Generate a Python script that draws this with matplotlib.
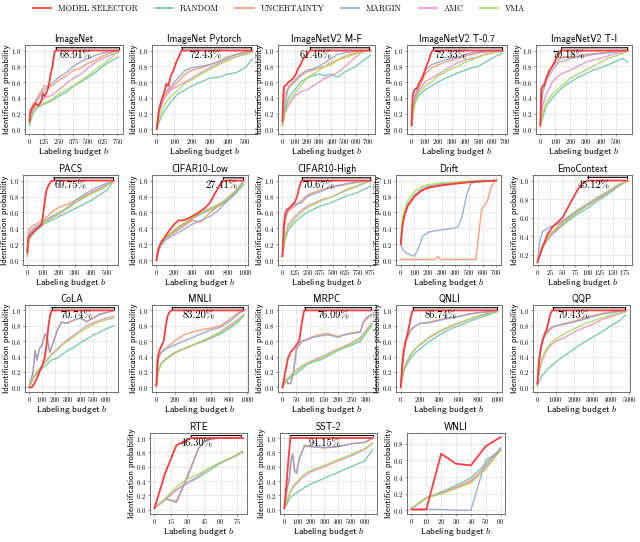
import numpy as np
import matplotlib
matplotlib.use('Agg')
import matplotlib.pyplot as plt
from matplotlib.lines import Line2D

plt.rcParams['mathtext.fontset'] = 'cm'
plt.rcParams['axes.formatter.use_mathtext'] = True

# ---- data (labeling budget -> identification probability)
imagenet = dict(
    title='ImageNet', ticks=(0, 750, 125), pct='68.91%', span=(225, 760), pct_x=395,
    sel_x=[0, 10, 30, 50, 75, 100, 115, 130, 150, 165, 180, 195, 210, 220, 760],
    sel=[0.1, 0.25, 0.28, 0.33, 0.3, 0.35, 0.45, 0.42, 0.48, 0.55, 0.7, 0.78, 0.95, 1.0, 1.0],
    x=[0, 25, 60, 125, 190, 250, 315, 375, 440, 500, 565, 625, 690, 740, 760],
    random=[0.05, 0.18, 0.27, 0.32, 0.36, 0.42, 0.47, 0.55, 0.6, 0.66, 0.72, 0.8, 0.86, 0.9, 0.92],
    uncertainty=[0.12, 0.3, 0.38, 0.55, 0.55, 0.62, 0.68, 0.75, 0.78, 0.84, 0.88, 0.93, 0.97, 0.99, 1.0],
    margin=[0.15, 0.25, 0.35, 0.5, 0.58, 0.66, 0.72, 0.8, 0.86, 0.9, 0.94, 0.97, 0.98, 1.0, 1.0],
    amc=[0.1, 0.22, 0.3, 0.4, 0.43, 0.5, 0.58, 0.65, 0.7, 0.78, 0.85, 0.9, 0.94, 0.97, 0.98],
    vma=[0.08, 0.2, 0.28, 0.33, 0.38, 0.45, 0.5, 0.55, 0.62, 0.68, 0.76, 0.82, 0.9, 0.97, 0.98])

imagenet_pt = dict(
    title='ImageNet Pytorch', ticks=(0, 500, 100), pct='72.43%', span=(140, 535), pct_x=275,
    sel_x=[0, 10, 25, 40, 55, 65, 80, 95, 110, 125, 140, 540],
    sel=[0.0, 0.2, 0.35, 0.45, 0.58, 0.55, 0.68, 0.75, 0.85, 0.92, 1.0, 1.0],
    x=[0, 15, 40, 80, 120, 160, 200, 250, 300, 350, 400, 450, 500, 540],
    random=[0, 0.1, 0.22, 0.35, 0.45, 0.5, 0.55, 0.6, 0.65, 0.66, 0.7, 0.72, 0.78, 0.89],
    uncertainty=[0, 0.3, 0.42, 0.52, 0.6, 0.7, 0.75, 0.78, 0.82, 0.86, 0.92, 0.95, 0.98, 1.0],
    margin=[0, 0.3, 0.45, 0.55, 0.65, 0.75, 0.78, 0.8, 0.82, 0.86, 0.9, 0.95, 0.98, 1.0],
    amc=[0, 0.25, 0.38, 0.5, 0.55, 0.6, 0.65, 0.72, 0.78, 0.84, 0.88, 0.92, 0.96, 0.98],
    vma=[0, 0.15, 0.3, 0.42, 0.5, 0.58, 0.63, 0.7, 0.76, 0.82, 0.87, 0.92, 0.95, 0.98])

imagenetv2_mf = dict(
    title='ImageNetV2 M-F', ticks=(0, 700, 100), pct='61.46%', span=(225, 710), pct_x=273,
    sel_x=[0, 8, 15, 30, 50, 70, 90, 110, 130, 150, 170, 190, 210, 225, 720],
    sel=[0.1, 0.45, 0.55, 0.56, 0.6, 0.62, 0.65, 0.7, 0.78, 0.82, 0.9, 0.92, 0.97, 1.0, 1.0],
    x=[0, 20, 50, 100, 150, 200, 250, 300, 350, 400, 450, 500, 550, 600, 650, 720],
    random=[0.05, 0.25, 0.4, 0.5, 0.6, 0.65, 0.68, 0.7, 0.68, 0.7, 0.66, 0.72, 0.76, 0.8, 0.86, 0.94],
    uncertainty=[0.05, 0.45, 0.52, 0.6, 0.68, 0.73, 0.75, 0.78, 0.8, 0.85, 0.88, 0.92, 0.95, 0.97, 0.99, 1.0],
    margin=[0.1, 0.3, 0.55, 0.62, 0.7, 0.75, 0.77, 0.8, 0.85, 0.9, 0.95, 0.97, 0.98, 0.99, 1.0, 1.0],
    amc=[0.05, 0.2, 0.3, 0.42, 0.48, 0.5, 0.55, 0.6, 0.65, 0.68, 0.72, 0.78, 0.85, 0.92, 0.98, 1.0],
    vma=[0.05, 0.2, 0.35, 0.45, 0.55, 0.65, 0.7, 0.75, 0.8, 0.82, 0.88, 0.9, 0.93, 0.96, 0.98, 1.0])

imagenetv2_t07 = dict(
    title='ImageNetV2 T-0.7', ticks=(0, 700, 100), pct='72.33%', span=(160, 675), pct_x=295,
    sel_x=[0, 8, 20, 40, 60, 80, 95, 110, 130, 145, 160, 680],
    sel=[0.05, 0.42, 0.5, 0.52, 0.6, 0.65, 0.72, 0.8, 0.88, 0.97, 1.0, 1.0],
    x=[0, 20, 50, 100, 150, 200, 250, 300, 350, 400, 450, 500, 550, 600, 680],
    random=[0.05, 0.3, 0.42, 0.5, 0.55, 0.6, 0.65, 0.68, 0.72, 0.75, 0.78, 0.8, 0.85, 0.9, 0.97],
    uncertainty=[0.05, 0.38, 0.5, 0.7, 0.78, 0.82, 0.85, 0.88, 0.9, 0.93, 0.95, 0.97, 0.98, 0.99, 1.0],
    margin=[0.1, 0.4, 0.55, 0.75, 0.82, 0.85, 0.88, 0.9, 0.92, 0.95, 0.97, 0.98, 0.99, 1.0, 1.0],
    amc=[0.05, 0.35, 0.48, 0.6, 0.65, 0.7, 0.75, 0.8, 0.85, 0.88, 0.9, 0.92, 0.95, 0.97, 0.99],
    vma=[0.05, 0.3, 0.45, 0.55, 0.6, 0.68, 0.72, 0.77, 0.8, 0.85, 0.88, 0.92, 0.95, 0.97, 1.0])

imagenetv2_ti = dict(
    title='ImageNetV2 T-I', ticks=(0, 500, 100), pct='70.18%', span=(140, 575), pct_x=190,
    sel_x=[0, 5, 15, 25, 40, 60, 80, 100, 120, 140, 580],
    sel=[0.05, 0.5, 0.55, 0.55, 0.65, 0.75, 0.8, 0.88, 0.95, 1.0, 1.0],
    x=[0, 15, 40, 80, 120, 160, 200, 250, 300, 350, 400, 450, 500, 550, 580],
    random=[0.05, 0.15, 0.3, 0.4, 0.48, 0.55, 0.6, 0.66, 0.7, 0.75, 0.78, 0.82, 0.86, 0.9, 0.85],
    uncertainty=[0.05, 0.55, 0.65, 0.8, 0.88, 0.92, 0.92, 0.93, 0.95, 0.96, 0.97, 0.98, 0.99, 1.0, 1.0],
    margin=[0.1, 0.45, 0.62, 0.75, 0.85, 0.87, 0.9, 0.92, 0.93, 0.95, 0.96, 0.97, 0.98, 1.0, 1.0],
    amc=[0.05, 0.3, 0.45, 0.6, 0.68, 0.72, 0.75, 0.8, 0.85, 0.88, 0.9, 0.93, 0.96, 0.98, 0.99],
    vma=[0.05, 0.2, 0.35, 0.45, 0.52, 0.58, 0.65, 0.7, 0.75, 0.8, 0.85, 0.9, 0.93, 0.97, 0.99])

pacs = dict(
    title='PACS', ticks=(0, 500, 100), pct='69.75%', span=(165, 535), pct_x=271,
    sel_x=[0, 5, 25, 50, 75, 90, 100, 110, 120, 135, 150, 160, 540],
    sel=[0.1, 0.28, 0.33, 0.38, 0.42, 0.45, 0.6, 0.75, 0.88, 0.95, 0.99, 1.0, 1.0],
    x=[0, 10, 25, 50, 75, 100, 150, 200, 250, 300, 350, 400, 450, 500, 540],
    random=[0.05, 0.25, 0.3, 0.36, 0.4, 0.45, 0.5, 0.55, 0.6, 0.65, 0.7, 0.75, 0.82, 0.88, 1.0],
    uncertainty=[0.1, 0.38, 0.42, 0.45, 0.48, 0.5, 0.6, 0.67, 0.7, 0.75, 0.8, 0.85, 0.9, 0.95, 1.0],
    margin=[0.1, 0.32, 0.37, 0.42, 0.45, 0.48, 0.55, 0.6, 0.66, 0.75, 0.82, 0.88, 0.93, 0.97, 1.0],
    amc=[0.05, 0.28, 0.34, 0.4, 0.43, 0.47, 0.53, 0.58, 0.65, 0.72, 0.78, 0.85, 0.9, 0.95, 1.0],
    vma=[0.05, 0.26, 0.32, 0.38, 0.42, 0.47, 0.53, 0.6, 0.65, 0.72, 0.78, 0.83, 0.88, 0.94, 1.0])

cifar_low = dict(
    title='CIFAR10-Low', ticks=(0, 1000, 200), pct='27.41%', span=(750, 975), pct_x=730,
    sel_x=[0, 25, 50, 100, 150, 200, 250, 300, 350, 400, 450, 500, 550, 600, 650, 700, 750, 980],
    sel=[0.0, 0.15, 0.22, 0.3, 0.38, 0.45, 0.5, 0.5, 0.52, 0.55, 0.58, 0.62, 0.66, 0.72, 0.82, 0.92, 1.0, 1.0],
    x=[0, 25, 50, 100, 200, 300, 400, 500, 600, 700, 800, 900, 980],
    random=[0, 0.13, 0.19, 0.27, 0.36, 0.44, 0.52, 0.58, 0.63, 0.68, 0.75, 0.85, 0.95],
    uncertainty=[0, 0.15, 0.2, 0.28, 0.35, 0.42, 0.5, 0.48, 0.6, 0.68, 0.78, 0.88, 1.0],
    margin=[0, 0.12, 0.18, 0.25, 0.32, 0.38, 0.45, 0.5, 0.55, 0.63, 0.75, 0.85, 1.0],
    amc=[0, 0.14, 0.2, 0.28, 0.38, 0.45, 0.52, 0.6, 0.65, 0.7, 0.78, 0.88, 1.0],
    vma=[0, 0.14, 0.2, 0.28, 0.38, 0.46, 0.53, 0.6, 0.64, 0.7, 0.77, 0.88, 0.98])

cifar_high = dict(
    title='CIFAR10-High', ticks=(0, 875, 125), pct='70.67%', span=(195, 870), pct_x=357,
    sel_x=[0, 15, 30, 50, 75, 100, 125, 150, 170, 190, 880],
    sel=[0.05, 0.45, 0.6, 0.64, 0.66, 0.7, 0.73, 0.82, 0.92, 1.0, 1.0],
    x=[0, 25, 60, 125, 190, 250, 375, 500, 625, 750, 880],
    random=[0.05, 0.25, 0.38, 0.48, 0.55, 0.6, 0.68, 0.73, 0.8, 0.85, 0.93],
    uncertainty=[0.05, 0.5, 0.62, 0.68, 0.75, 0.82, 0.88, 0.92, 0.95, 0.98, 1.0],
    margin=[0.05, 0.5, 0.65, 0.7, 0.72, 0.8, 0.86, 0.92, 0.96, 0.98, 1.0],
    amc=[0.05, 0.3, 0.45, 0.55, 0.63, 0.68, 0.75, 0.8, 0.87, 0.93, 1.0],
    vma=[0.05, 0.28, 0.42, 0.52, 0.6, 0.66, 0.74, 0.8, 0.88, 0.94, 1.0])

drift = dict(
    title='Drift', ticks=(0, 700, 100), pct=None,
    x=[0, 10, 25, 50, 100, 150, 200, 300, 400, 500, 600, 700],
    sel=[0.2, 0.4, 0.55, 0.68, 0.8, 0.87, 0.91, 0.94, 0.96, 0.98, 0.99, 1.0],
    random=[0.2, 0.45, 0.58, 0.7, 0.82, 0.89, 0.93, 0.96, 0.97, 0.99, 1.0, 1.0],
    amc=[0.2, 0.42, 0.56, 0.68, 0.8, 0.88, 0.92, 0.95, 0.97, 0.98, 0.99, 1.0],
    vma=[0.2, 0.5, 0.62, 0.74, 0.86, 0.92, 0.95, 0.97, 0.98, 0.99, 1.0, 1.0],
    margin_x=[0, 20, 50, 100, 130, 160, 200, 250, 300, 380, 420, 450, 480, 510, 550, 700],
    margin=[0.2, 0.12, 0.08, 0.05, 0.15, 0.3, 0.35, 0.37, 0.38, 0.4, 0.42, 0.55, 0.8, 0.95, 1.0, 1.0],
    uncertainty_x=[0, 250, 270, 290, 550, 570, 590, 600, 630, 660, 690, 700],
    uncertainty=[0.01, 0.01, 0.05, 0.01, 0.01, 0.3, 0.6, 0.66, 0.72, 0.9, 1.0, 1.0])

emocontext = dict(
    title='EmoContext', ticks=(0, 175, 25), pct='45.12%', span=(100, 178), pct_x=113,
    sel_x=[0, 10, 20, 30, 40, 50, 60, 70, 80, 90, 100, 180],
    sel=[0.12, 0.28, 0.42, 0.5, 0.55, 0.6, 0.7, 0.8, 0.9, 0.97, 1.0, 1.0],
    x=[0, 5, 10, 25, 40, 60, 80, 100, 120, 140, 160, 180],
    random=[0.12, 0.2, 0.28, 0.4, 0.47, 0.56, 0.64, 0.7, 0.78, 0.85, 0.93, 1.0],
    uncertainty=[0.13, 0.22, 0.3, 0.42, 0.5, 0.6, 0.68, 0.74, 0.8, 0.87, 0.94, 1.0],
    margin=[0.15, 0.35, 0.45, 0.5, 0.53, 0.6, 0.68, 0.75, 0.82, 0.88, 0.95, 1.0],
    amc=[0.13, 0.2, 0.28, 0.4, 0.48, 0.57, 0.66, 0.73, 0.8, 0.87, 0.94, 1.0],
    vma=[0.14, 0.22, 0.3, 0.42, 0.5, 0.58, 0.67, 0.74, 0.81, 0.88, 0.95, 1.0])

cola = dict(
    title='CoLA', ticks=(0, 600, 100), pct='70.74%', span=(175, 660), pct_x=370,
    sel_x=[0, 20, 40, 60, 80, 100, 120, 135, 150, 165, 175, 660],
    sel=[0.0, 0.0, 0.05, 0.12, 0.2, 0.28, 0.38, 0.55, 0.8, 0.95, 1.0, 1.0],
    x=[0, 30, 45, 60, 80, 100, 125, 140, 160, 180, 220, 250, 300, 350, 400, 450, 500, 550, 600, 660],
    random=[0, 0.12, 0.15, 0.18, 0.22, 0.25, 0.28, 0.3, 0.33, 0.36, 0.38, 0.42, 0.48, 0.52, 0.58, 0.63, 0.68, 0.72, 0.76, 0.8],
    uncertainty=[0.0, 0.2, 0.47, 0.36, 0.5, 0.55, 0.69, 0.66, 0.46, 0.55, 0.74, 0.84, 0.84, 0.87, 0.9, 0.86, 0.9, 0.95, 0.97, 1.0],
    margin=[0.0, 0.2, 0.48, 0.35, 0.5, 0.55, 0.7, 0.65, 0.45, 0.55, 0.75, 0.85, 0.83, 0.88, 0.9, 0.85, 0.9, 0.95, 0.97, 1.0],
    amc=[0, 0.12, 0.16, 0.2, 0.24, 0.28, 0.33, 0.36, 0.4, 0.44, 0.5, 0.55, 0.62, 0.68, 0.74, 0.8, 0.84, 0.87, 0.9, 0.92],
    vma=[0, 0.12, 0.16, 0.2, 0.24, 0.28, 0.32, 0.35, 0.39, 0.43, 0.49, 0.54, 0.6, 0.66, 0.72, 0.77, 0.82, 0.85, 0.88, 0.9])

mnli = dict(
    title='MNLI', ticks=(0, 1000, 200), pct='83.20%', span=(170, 955), pct_x=470,
    sel_x=[0, 10, 20, 40, 60, 80, 95, 110, 125, 140, 165, 960],
    sel=[0.02, 0.3, 0.42, 0.5, 0.55, 0.6, 0.72, 0.85, 0.93, 0.97, 1.0, 1.0],
    x=[0, 20, 50, 100, 200, 300, 400, 500, 600, 700, 800, 900, 960],
    random=[0.02, 0.2, 0.3, 0.37, 0.45, 0.5, 0.55, 0.59, 0.64, 0.69, 0.76, 0.85, 0.93],
    uncertainty=[0.02, 0.4, 0.45, 0.5, 0.6, 0.68, 0.72, 0.75, 0.77, 0.8, 0.88, 0.97, 1.0],
    margin=[0.02, 0.35, 0.45, 0.5, 0.55, 0.6, 0.65, 0.7, 0.75, 0.78, 0.85, 0.95, 1.0],
    amc=[0.02, 0.2, 0.3, 0.36, 0.45, 0.5, 0.55, 0.6, 0.65, 0.72, 0.8, 0.88, 0.95],
    vma=[0.02, 0.2, 0.3, 0.36, 0.44, 0.5, 0.55, 0.6, 0.66, 0.71, 0.78, 0.87, 0.94])

mrpc = dict(
    title='MRPC', ticks=(0, 300, 50), pct='76.09%', span=(80, 318), pct_x=182,
    sel_x=[0, 10, 20, 30, 40, 50, 60, 70, 78, 320],
    sel=[0.0, 0.2, 0.38, 0.46, 0.5, 0.55, 0.6, 0.85, 1.0, 1.0],
    x=[0, 10, 20, 30, 40, 50, 70, 90, 110, 140, 160, 180, 200, 220, 250, 280, 290, 300, 320],
    random=[0, 0.06, 0.1, 0.13, 0.16, 0.18, 0.24, 0.3, 0.33, 0.36, 0.4, 0.44, 0.48, 0.51, 0.55, 0.6, 0.65, 0.7, 0.8],
    uncertainty=[0.0, 0.1, 0.05, 0.06, 0.22, 0.5, 0.6, 0.63, 0.66, 0.69, 0.7, 0.68, 0.66, 0.68, 0.71, 0.72, 0.84, 0.88, 0.94],
    margin=[0.0, 0.1, 0.05, 0.05, 0.2, 0.5, 0.6, 0.62, 0.65, 0.67, 0.68, 0.67, 0.65, 0.68, 0.7, 0.72, 0.85, 0.9, 0.95],
    amc=[0, 0.08, 0.12, 0.16, 0.2, 0.22, 0.28, 0.32, 0.35, 0.4, 0.43, 0.47, 0.5, 0.53, 0.58, 0.65, 0.7, 0.74, 0.84],
    vma=[0, 0.08, 0.12, 0.15, 0.19, 0.21, 0.27, 0.31, 0.34, 0.38, 0.42, 0.45, 0.49, 0.52, 0.57, 0.63, 0.68, 0.72, 0.82])

qnli = dict(
    title='QNLI', ticks=(0, 1000, 200), pct='86.74%', span=(125, 995), pct_x=410,
    sel_x=[0, 15, 30, 50, 70, 90, 110, 125, 1000],
    sel=[0.0, 0.3, 0.48, 0.6, 0.7, 0.82, 0.95, 1.0, 1.0],
    x=[0, 25, 50, 100, 150, 200, 300, 400, 500, 600, 700, 800, 900, 1000],
    random=[0.02, 0.18, 0.27, 0.38, 0.45, 0.5, 0.6, 0.68, 0.75, 0.8, 0.85, 0.9, 0.94, 0.98],
    uncertainty=[0.02, 0.38, 0.58, 0.73, 0.8, 0.83, 0.85, 0.88, 0.9, 0.92, 0.95, 0.97, 0.98, 1.0],
    margin=[0.02, 0.4, 0.6, 0.75, 0.8, 0.83, 0.84, 0.87, 0.9, 0.92, 0.95, 0.97, 0.98, 1.0],
    amc=[0.02, 0.2, 0.3, 0.42, 0.5, 0.55, 0.65, 0.72, 0.78, 0.83, 0.88, 0.92, 0.96, 1.0],
    vma=[0.02, 0.2, 0.3, 0.43, 0.5, 0.56, 0.66, 0.73, 0.79, 0.84, 0.88, 0.93, 0.96, 1.0])

qqp = dict(
    title='QQP', ticks=(0, 5000, 1000), pct='79.43%', span=(850, 4780), pct_x=1960,
    sel_x=[0, 100, 200, 300, 400, 500, 600, 700, 800, 4800],
    sel=[0.05, 0.35, 0.52, 0.62, 0.7, 0.75, 0.85, 0.95, 1.0, 1.0],
    x=[0, 100, 250, 500, 750, 1000, 1500, 2000, 2500, 3000, 3500, 4000, 4500, 4800],
    random=[0.02, 0.08, 0.15, 0.22, 0.28, 0.33, 0.42, 0.5, 0.58, 0.65, 0.72, 0.8, 0.87, 0.94],
    uncertainty=[0.05, 0.4, 0.6, 0.7, 0.76, 0.8, 0.83, 0.86, 0.9, 0.93, 0.96, 0.98, 0.99, 1.0],
    margin=[0.05, 0.4, 0.62, 0.72, 0.78, 0.8, 0.82, 0.85, 0.88, 0.92, 0.95, 0.97, 0.99, 1.0],
    amc=[0.03, 0.2, 0.35, 0.48, 0.55, 0.6, 0.65, 0.72, 0.77, 0.82, 0.88, 0.92, 0.96, 0.98],
    vma=[0.03, 0.22, 0.38, 0.5, 0.58, 0.63, 0.7, 0.76, 0.82, 0.86, 0.9, 0.94, 0.97, 0.99])

rte = dict(
    title='RTE', ticks=(0, 75, 15), pct='46.30%', span=(33, 79), pct_x=39,
    sel_x=[0, 10, 20, 27, 33, 80],
    sel=[0.02, 0.52, 0.9, 0.95, 1.0, 1.0],
    x=[0, 10, 20, 30, 40, 45, 50, 60, 70, 80],
    random=[0.02, 0.14, 0.28, 0.37, 0.45, 0.5, 0.55, 0.65, 0.72, 0.8],
    uncertainty=[0.02, 0.15, 0.12, 0.48, 0.86, 0.95, 0.98, 1.0, 1.0, 1.0],
    margin=[0.02, 0.15, 0.1, 0.45, 0.85, 0.95, 0.98, 1.0, 1.0, 1.0],
    amc=[0.02, 0.15, 0.28, 0.38, 0.47, 0.53, 0.58, 0.66, 0.72, 0.81],
    vma=[0.02, 0.16, 0.32, 0.43, 0.5, 0.54, 0.58, 0.66, 0.73, 0.82])

sst2 = dict(
    title='SST-2', ticks=(0, 600, 100), pct='94.15%', span=(45, 660), pct_x=305,
    sel_x=[0, 15, 30, 45, 660],
    sel=[0.02, 0.35, 0.7, 1.0, 1.0],
    x=[0, 20, 35, 50, 62, 75, 90, 110, 130, 150, 200, 300, 400, 500, 600, 660],
    random=[0.02, 0.08, 0.14, 0.18, 0.2, 0.22, 0.23, 0.26, 0.28, 0.31, 0.36, 0.44, 0.52, 0.6, 0.68, 0.84],
    uncertainty=[0.02, 0.3, 0.42, 0.68, 0.76, 0.56, 0.52, 0.7, 0.8, 0.88, 0.88, 0.86, 0.88, 0.92, 0.94, 0.99],
    margin=[0.02, 0.3, 0.4, 0.7, 0.78, 0.55, 0.5, 0.7, 0.8, 0.9, 0.88, 0.87, 0.88, 0.92, 0.94, 1.0],
    amc=[0.02, 0.12, 0.2, 0.27, 0.3, 0.33, 0.36, 0.4, 0.44, 0.47, 0.53, 0.6, 0.68, 0.75, 0.84, 0.92],
    vma=[0.02, 0.13, 0.21, 0.28, 0.32, 0.35, 0.38, 0.42, 0.46, 0.5, 0.55, 0.62, 0.7, 0.77, 0.85, 0.93])

wnli = dict(
    title='WNLI', ticks=(0, 60, 10), pct=None,
    x=[0, 10, 20, 30, 40, 50, 60],
    sel=[0.01, 0.01, 0.68, 0.56, 0.54, 0.77, 0.88],
    random=[0.02, 0.15, 0.22, 0.3, 0.39, 0.56, 0.75],
    uncertainty=[0.02, 0.15, 0.2, 0.27, 0.34, 0.5, 0.73],
    margin=[0.01, 0.01, 0.01, 0.0, 0.0, 0.6, 0.72],
    amc=[0.02, 0.15, 0.21, 0.28, 0.36, 0.53, 0.74],
    vma=[0.02, 0.15, 0.2, 0.26, 0.33, 0.5, 0.72])

methods = ['random', 'uncertainty', 'margin', 'amc', 'vma']
legend_labels = ['MODEL SELECTOR', 'RANDOM', 'UNCERTAINTY', 'MARGIN', 'AMC', 'VMA']

# ---- style / layout
sel_color = '#ff3c3c'
colors = {'random': '#66c2a5', 'uncertainty': '#fc8d62', 'margin': '#8da0cb',
          'amc': '#e78ac3', 'vma': '#a6d854'}

# axes boxes in pixels: (left, top, right, bottom)
panels = [
    (imagenet, (25, 45, 123, 134)), (imagenet_pt, (152, 45, 257, 134)),
    (imagenetv2_mf, (278, 45, 375, 134)), (imagenetv2_t07, (407, 45, 507, 134)),
    (imagenetv2_ti, (536, 45, 632, 134)),
    (pacs, (23, 175, 118, 265)), (cifar_low, (152, 175, 248, 265)),
    (cifar_high, (278, 175, 375, 265)), (drift, (396, 175, 501, 265)),
    (emocontext, (533, 175, 632, 265)),
    (cola, (25, 305, 118, 392)), (mnli, (152, 305, 248, 392)),
    (mrpc, (278, 305, 376, 392)), (qnli, (396, 305, 502, 392)),
    (qqp, (533, 305, 630, 392)),
    (rte, (150, 433, 247, 514)), (sst2, (280, 433, 377, 514)),
    (wnli, (407, 433, 505, 514)),
]

W, H = 640, 542
fig = plt.figure(figsize=(W / 100, H / 100), dpi=100)

for d, (l, t, r, b) in panels:
    ax = fig.add_axes([l / W, 1 - b / H, (r - l) / W, (b - t) / H])
    for m in methods:
        xs = d.get(m + '_x', d['x'])
        ax.plot(xs, d[m], color=colors[m], lw=1.0, alpha=0.85)
    ax.plot(d.get('sel_x', d['x']), d['sel'], color=sel_color, lw=1.3)

    t0, t1, ts = d['ticks']
    ax.set_xticks(np.arange(t0, t1 + 1, ts))
    if d is emocontext:
        ax.set_yticks([0.2, 0.4, 0.6, 0.8, 1.0])
        ax.set_ylim(0.09, 1.06)
    elif d is wnli:
        ax.set_yticks([0.0, 0.2, 0.4, 0.6, 0.8])
        ax.set_ylim(-0.045, 0.93)
    else:
        ax.set_yticks([0.0, 0.2, 0.4, 0.6, 0.8, 1.0])
        ax.set_ylim(-0.06, 1.07)
    ax.margins(x=0.05)

    if d['pct'] is not None:
        x0, x1 = d['span']
        ax.annotate('', xy=(x1, 1.035), xytext=(x0, 1.035),
                    arrowprops=dict(arrowstyle='|-|,widthA=0.07,widthB=0.07',
                                    color='black', lw=0.8, shrinkA=0, shrinkB=0))
        ax.text(d['pct_x'], 0.995, d['pct'], ha='center', va='top',
                fontsize=7.5, family='cmr10')

    ax.set_title(d['title'], fontsize=7, family='cmss10', pad=2)
    ax.set_xlabel(r'Labeling budget $b$', fontsize=6.8, family='cmss10', labelpad=0)
    ax.set_ylabel('Identification probability', fontsize=6.3, family='cmss10', labelpad=0.5)
    ax.grid(True, color='#e6e6e6', lw=0.6)
    ax.set_axisbelow(True)
    ax.tick_params(labelsize=4.8, length=1.5, width=0.5, pad=1, color='0.4')
    for lab in ax.get_xticklabels() + ax.get_yticklabels():
        lab.set_family('cmr10')
    for s in ax.spines.values():
        s.set_color('0.35')
        s.set_linewidth(0.6)

handles = [Line2D([], [], color=sel_color, lw=1.3)] + \
          [Line2D([], [], color=colors[m], lw=1.3, alpha=0.85) for m in methods]
fig.legend(handles, legend_labels, loc='upper left', bbox_to_anchor=(0.04, 1.005),
           ncol=6, frameon=False, handlelength=2.2, handletextpad=0.8,
           columnspacing=2.0, prop={'family': 'cmr10', 'size': 6})

fig.savefig('out.png', dpi=100)
